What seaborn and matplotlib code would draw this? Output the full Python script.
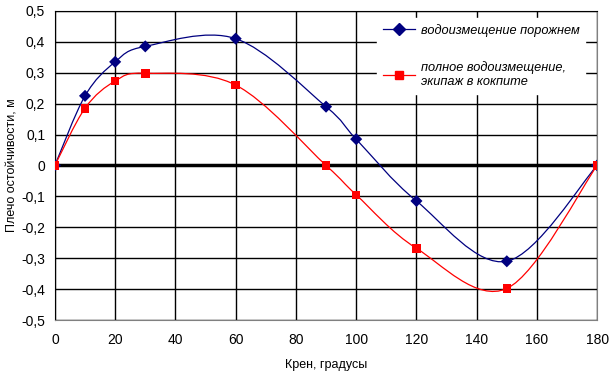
import numpy as np
import pandas as pd
import matplotlib
matplotlib.use("Agg")
import matplotlib.pyplot as plt
from matplotlib.path import Path
from matplotlib.patches import PathPatch
from matplotlib.lines import Line2D
from matplotlib.ticker import FuncFormatter, MultipleLocator
import seaborn as sns

# Heel angle, degrees
heel = [0, 10, 20, 30, 60, 90, 100, 120, 150, 180]
# Righting arm, m
arm_light = [0, 0.225, 0.335, 0.385, 0.41, 0.19, 0.085, -0.115, -0.31, 0]
arm_full = [0, 0.185, 0.273, 0.298, 0.26, 0, -0.095, -0.268, -0.398, 0]

label_light = "водоизмещение порожнем"
label_full = "полное водоизмещение,\nэкипаж в кокпите"

c_light = "#000080"
c_full = "#FF0000"


def smooth_path(xs, ys):
    # Excel-like smoothed line: Catmull-Rom converted to cubic Bezier
    p = np.column_stack([xs, ys]).astype(float)
    ext = np.vstack([p[0], p, p[-1]])
    verts = [p[0]]
    codes = [Path.MOVETO]
    for i in range(1, len(ext) - 2):
        c1 = ext[i] + (ext[i + 1] - ext[i - 1]) / 6
        c2 = ext[i + 1] - (ext[i + 2] - ext[i]) / 6
        verts += [c1, c2, ext[i + 1]]
        codes += [Path.CURVE4] * 3
    return Path(verts, codes)


df = pd.DataFrame({
    "heel": heel * 2,
    "arm": arm_light + arm_full,
    "case": [label_light] * len(heel) + [label_full] * len(heel),
})

plt.rcParams["font.family"] = ["Liberation Sans", "DejaVu Sans"]

fig = plt.figure(figsize=(6.1, 3.73), dpi=100)
ax = fig.add_axes([0.090, 0.142, 0.889, 0.829])

ax.set_xlim(0, 180)
ax.set_ylim(-0.5, 0.5)
ax.xaxis.set_major_locator(MultipleLocator(20))
ax.yaxis.set_major_locator(MultipleLocator(0.1))
ax.grid(True, color="black", linewidth=1.0)
ax.set_axisbelow(True)
ax.axhline(0, color="black", linewidth=2.5, zorder=1.5)

for ys, col in [(arm_light, c_light), (arm_full, c_full)]:
    ax.add_patch(PathPatch(smooth_path(heel, ys), facecolor="none",
                           edgecolor=col, linewidth=0.9, zorder=2))

sns.scatterplot(data=df, x="heel", y="arm", hue="case", style="case",
                palette=[c_light, c_full], markers=["D", "s"], s=38,
                edgecolor="none", legend=False, ax=ax, zorder=3)


def fmt(v, pos):
    if abs(v) < 1e-9:
        return "0"
    return f"{v:.1f}".replace(".", ",")


ax.yaxis.set_major_formatter(FuncFormatter(fmt))
ax.tick_params(length=0, labelsize=10, pad=9)
ax.tick_params(axis="y", pad=7)

ax.set_xlabel("Крен, градусы", fontsize=9, labelpad=9)
ax.set_ylabel("Плечо остойчивости, м", fontsize=9, labelpad=2)

for side in ["right", "bottom"]:
    ax.spines[side].set_color("#808080")
for side in ["left", "top"]:
    ax.spines[side].set_color("black")

handles = [
    Line2D([], [], color=c_light, marker="D", markersize=6, linewidth=0.9),
    Line2D([], [], color=c_full, marker="s", markersize=5.5, linewidth=0.9),
]
leg = ax.legend(handles, [label_light, label_full], loc="upper right",
                bbox_to_anchor=(0.978, 0.977), borderaxespad=0,
                frameon=True, fancybox=False, framealpha=1,
                edgecolor="white", handlelength=2.5, handletextpad=0.45,
                labelspacing=1.95, borderpad=0.45,
                prop={"style": "italic", "size": 9.2})

fig.savefig("out.png", dpi=100)
